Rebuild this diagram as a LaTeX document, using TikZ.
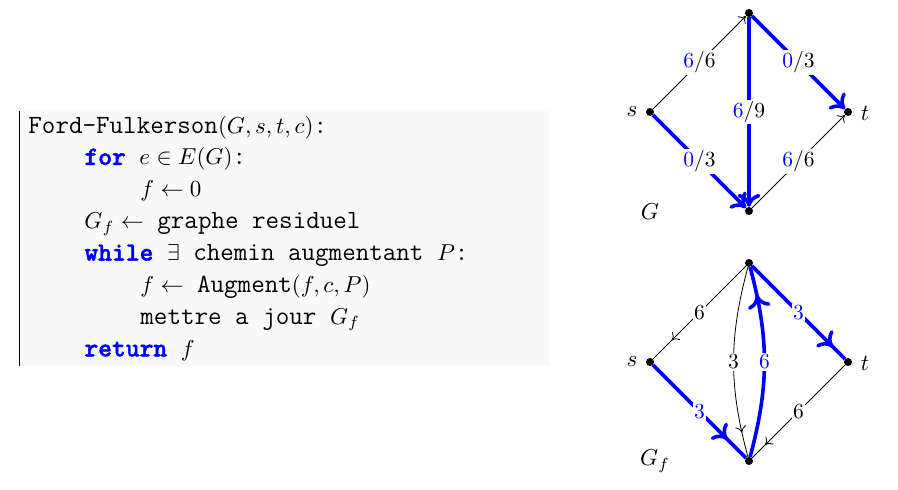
\documentclass[tikz,border=0pt]{standalone}
\usepackage{fontspec}
\usetikzlibrary{arrows.meta,decorations.markings}
\definecolor{codebg}{RGB}{249,249,249}
\definecolor{kwblue}{RGB}{0,0,255}
\definecolor{flowblue}{RGB}{0,0,255}
\newfontfamily\kwfont{lmmonolt10-bold.otf}[FakeBold=1.6]
\newcommand\cf{\fontsize{11.43}{13}\selectfont\ttfamily}
\newcommand\kwd[1]{{\fontsize{11.43}{13}\selectfont\kwfont\color{kwblue}#1}}
\newcommand\fl[1]{\textcolor{flowblue}{#1}}
\begin{document}
\begin{tikzpicture}[x=1pt,y=-1pt,
  codeline/.style={anchor=base west, inner sep=0pt, scale=2.3, font=\fontsize{10}{12}\selectfont},
  dot/.style={circle, fill=black, inner sep=0pt, minimum size=8pt},
  lab/.style={fill=white, inner sep=0.6pt, scale=2.15, font=\fontsize{10}{12}\selectfont},
  glab/.style={inner sep=0pt, scale=2.3, font=\fontsize{10}{12}\selectfont},
  thinedge/.style={line width=0.8pt, -{Computer Modern Rightarrow[length=6.5pt,width=11pt]}},
  thickedge/.style={line width=3.6pt, draw=flowblue, -{Computer Modern Rightarrow[length=13pt,width=23pt]}},
  thinmid/.style={line width=0.8pt, postaction={decorate},
    decoration={markings, mark=at position #1 with {\arrow{Computer Modern Rightarrow[length=6.5pt,width=11pt]}}}},
  thickmid/.style={line width=3.6pt, draw=flowblue, postaction={decorate},
    decoration={markings, mark=at position #1 with {\arrow[flowblue]{Computer Modern Rightarrow[length=13pt,width=23pt]}}}}
]
\path[use as bounding box] (0,0) rectangle (898,490);

% code box
\fill[codebg] (19.5,111) rectangle (549,366);
\draw[line width=1pt] (19.5,111) -- (19.5,366);
\node[codeline] (l1) at (28,133) {{\cf Ford-Fulkerson}$(G,s,t,c)${\cf :}};
\node[codeline] (l2) at (84,164.9) {\kwd{for}{\cf\ }$e\in E(G)${\cf :}};
\node[codeline] (l3) at (140,196.8) {$f\leftarrow 0$};
\node[codeline] (l4) at (84,228.7) {$G_f\leftarrow${\cf\ graphe residuel}};
\node[codeline] (l5) at (84,260.6) {\kwd{while}{\cf\ }$\exists${\cf\ chemin augmentant }$P${\cf :}};
\node[codeline] (l6) at (140,292.5) {$f\leftarrow${\cf\ Augment}$(f,c,P)$};
\node[codeline] (l7) at (140,324.4) {{\cf mettre a jour }$G_f$};
\node[codeline] (l8) at (84,356.3) {\kwd{return}{\cf\ }$f$};

% graph G
\node[dot] (T1) at (749,13) {};
\node[dot] (S1) at (650,112) {};
\node[dot] (R1) at (848,112) {};
\node[dot] (B1) at (749,211) {};
\node[glab] (s1) at (632,112) {$s$};
\node[glab] (t1) at (865,113) {$t$};
\node[glab] (G1) at (650,212) {$G$};

\draw[thinedge] (S1) -- node[lab] {\fl{6}/6} (T1);
\draw[thickedge] (T1) -- node[lab] {\fl{0}/3} (R1);
\draw[thickedge] (T1) -- node[lab] {\fl{6}/9} (B1);
\draw[thickedge] (S1) -- node[lab] {\fl{0}/3} (B1);
\draw[thinedge] (B1) -- node[lab] {\fl{6}/6} (R1);

% graph G_f
\node[dot] (T2) at (749,263) {};
\node[dot] (S2) at (650,362) {};
\node[dot] (R2) at (848,362) {};
\node[dot] (B2) at (749,461) {};
\node[glab] (s2) at (632,362) {$s$};
\node[glab] (t2) at (865,363) {$t$};
\node[glab] (G2) at (655,461) {$G_f$};

\draw[thinmid=0.8] (T2) -- node[lab] {6} (S2);
\draw[thickmid=0.87] (T2) -- node[lab] {\fl{3}} (R2);
\draw[thickmid=0.8] (S2) -- node[lab] {\fl{3}} (B2);
\draw[thinmid=0.86] (R2) -- node[lab] {6} (B2);
\draw[thinmid=0.87] (T2) to[bend right=15] node[lab] {3} (B2);
\draw[thickmid=0.85] (B2) to[bend right=15] node[lab] {\fl{6}} (T2);
\end{tikzpicture}
\end{document}
